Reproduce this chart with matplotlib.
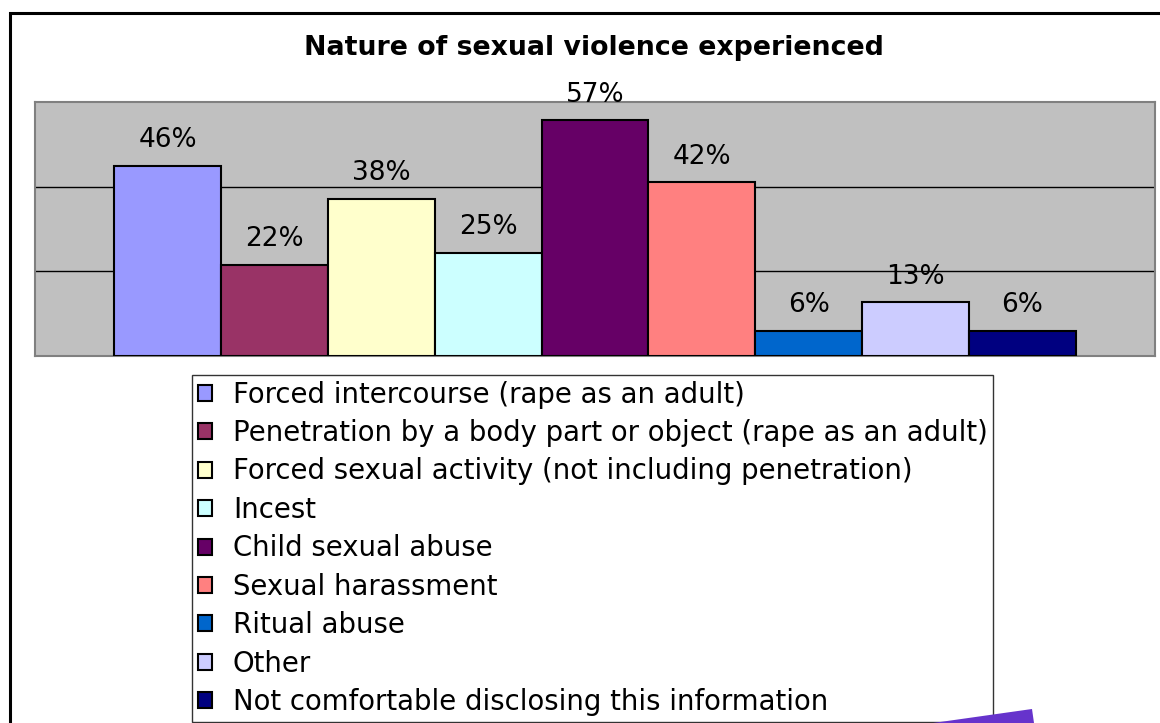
import matplotlib
matplotlib.use("Agg")
import matplotlib.pyplot as plt
from matplotlib.patches import Rectangle, Polygon

categories = [
    "Forced intercourse (rape as an adult)",
    "Penetration by a body part or object (rape as an adult)",
    "Forced sexual activity (not including penetration)",
    "Incest",
    "Child sexual abuse",
    "Sexual harassment",
    "Ritual abuse",
    "Other",
    "Not comfortable disclosing this information",
]
values = [46, 22, 38, 25, 57, 42, 6, 13, 6]
labels = ["46%", "22%", "38%", "25%", "57%", "42%", "6%", "13%", "6%"]
colors = ["#9999FF", "#993366", "#FFFFCC", "#CCFFFF", "#660066",
          "#FF8080", "#0066CC", "#CCCCFF", "#000080"]
title = "Nature of sexual violence experienced"

W, H = 1160, 723
fig = plt.figure(figsize=(W / 100, H / 100), dpi=100)
fig.patch.set_facecolor("white")

# outer chart border
fig.add_artist(Rectangle((10 / W, 1 - 13 / H - 760 / H), 1200 / W, 760 / H,
                         transform=fig.transFigure, fill=False,
                         edgecolor="black", linewidth=2.2, zorder=0))

ax = fig.add_axes([35 / W, 1 - 356 / H, (1155 - 35) / W, (356 - 102) / H])
ax.set_facecolor("#C0C0C0")
for s in ax.spines.values():
    s.set_edgecolor("#808080")
    s.set_linewidth(1.5)

ymax = 61.4
x = list(range(len(values)))
bars = ax.bar(x, values, width=1.0, color=colors, edgecolor="black",
              linewidth=1.5, label=categories, zorder=3)
ax.set_xlim(-0.5 - 0.742, len(values) - 0.5 + 0.742)
ax.set_ylim(0, ymax)
ax.set_yticks([ymax / 3, 2 * ymax / 3])
ax.yaxis.grid(True, color="black", linewidth=1.0, zorder=1)
ax.set_axisbelow(True)
ax.tick_params(left=False, bottom=False, labelleft=False, labelbottom=False)

for xi, v, lab in zip(x, values, labels):
    ax.annotate(lab, (xi, v), xytext=(0, 18.5), textcoords="offset points",
                ha="center", va="center", fontsize=19,
                family="DejaVu Sans", color="black", zorder=5,
                annotation_clip=False)

fig.text(594 / W, 1 - 48 / H, title, ha="center", va="center",
         fontsize=19.3, fontweight="bold", family="DejaVu Sans")

handles = [Rectangle((0, 0), 1, 1, facecolor=c, edgecolor="black", linewidth=1.5)
           for c in colors]
leg = fig.legend(handles, categories, loc="upper left",
                 bbox_to_anchor=(192 / W, 1 - 375 / H),
                 bbox_transform=fig.transFigure, frameon=True, fancybox=False,
                 borderaxespad=0, borderpad=0.2,
                 prop={"family": "DejaVu Sans", "size": 19.8},
                 handlelength=0.52, handleheight=0.52, handletextpad=0.77,
                 labelspacing=0.38)
leg.get_frame().set_edgecolor("black")
leg.get_frame().set_linewidth(1.0)

# decorative purple wedge at the bottom
fig.add_artist(Polygon([(933 / W, 0), (1032 / W, 1 - 709 / H), (1034 / W, 0)],
                       closed=True, transform=fig.transFigure,
                       facecolor="#6633CC", edgecolor="none", zorder=10))

fig.savefig("out.png", dpi=100)
